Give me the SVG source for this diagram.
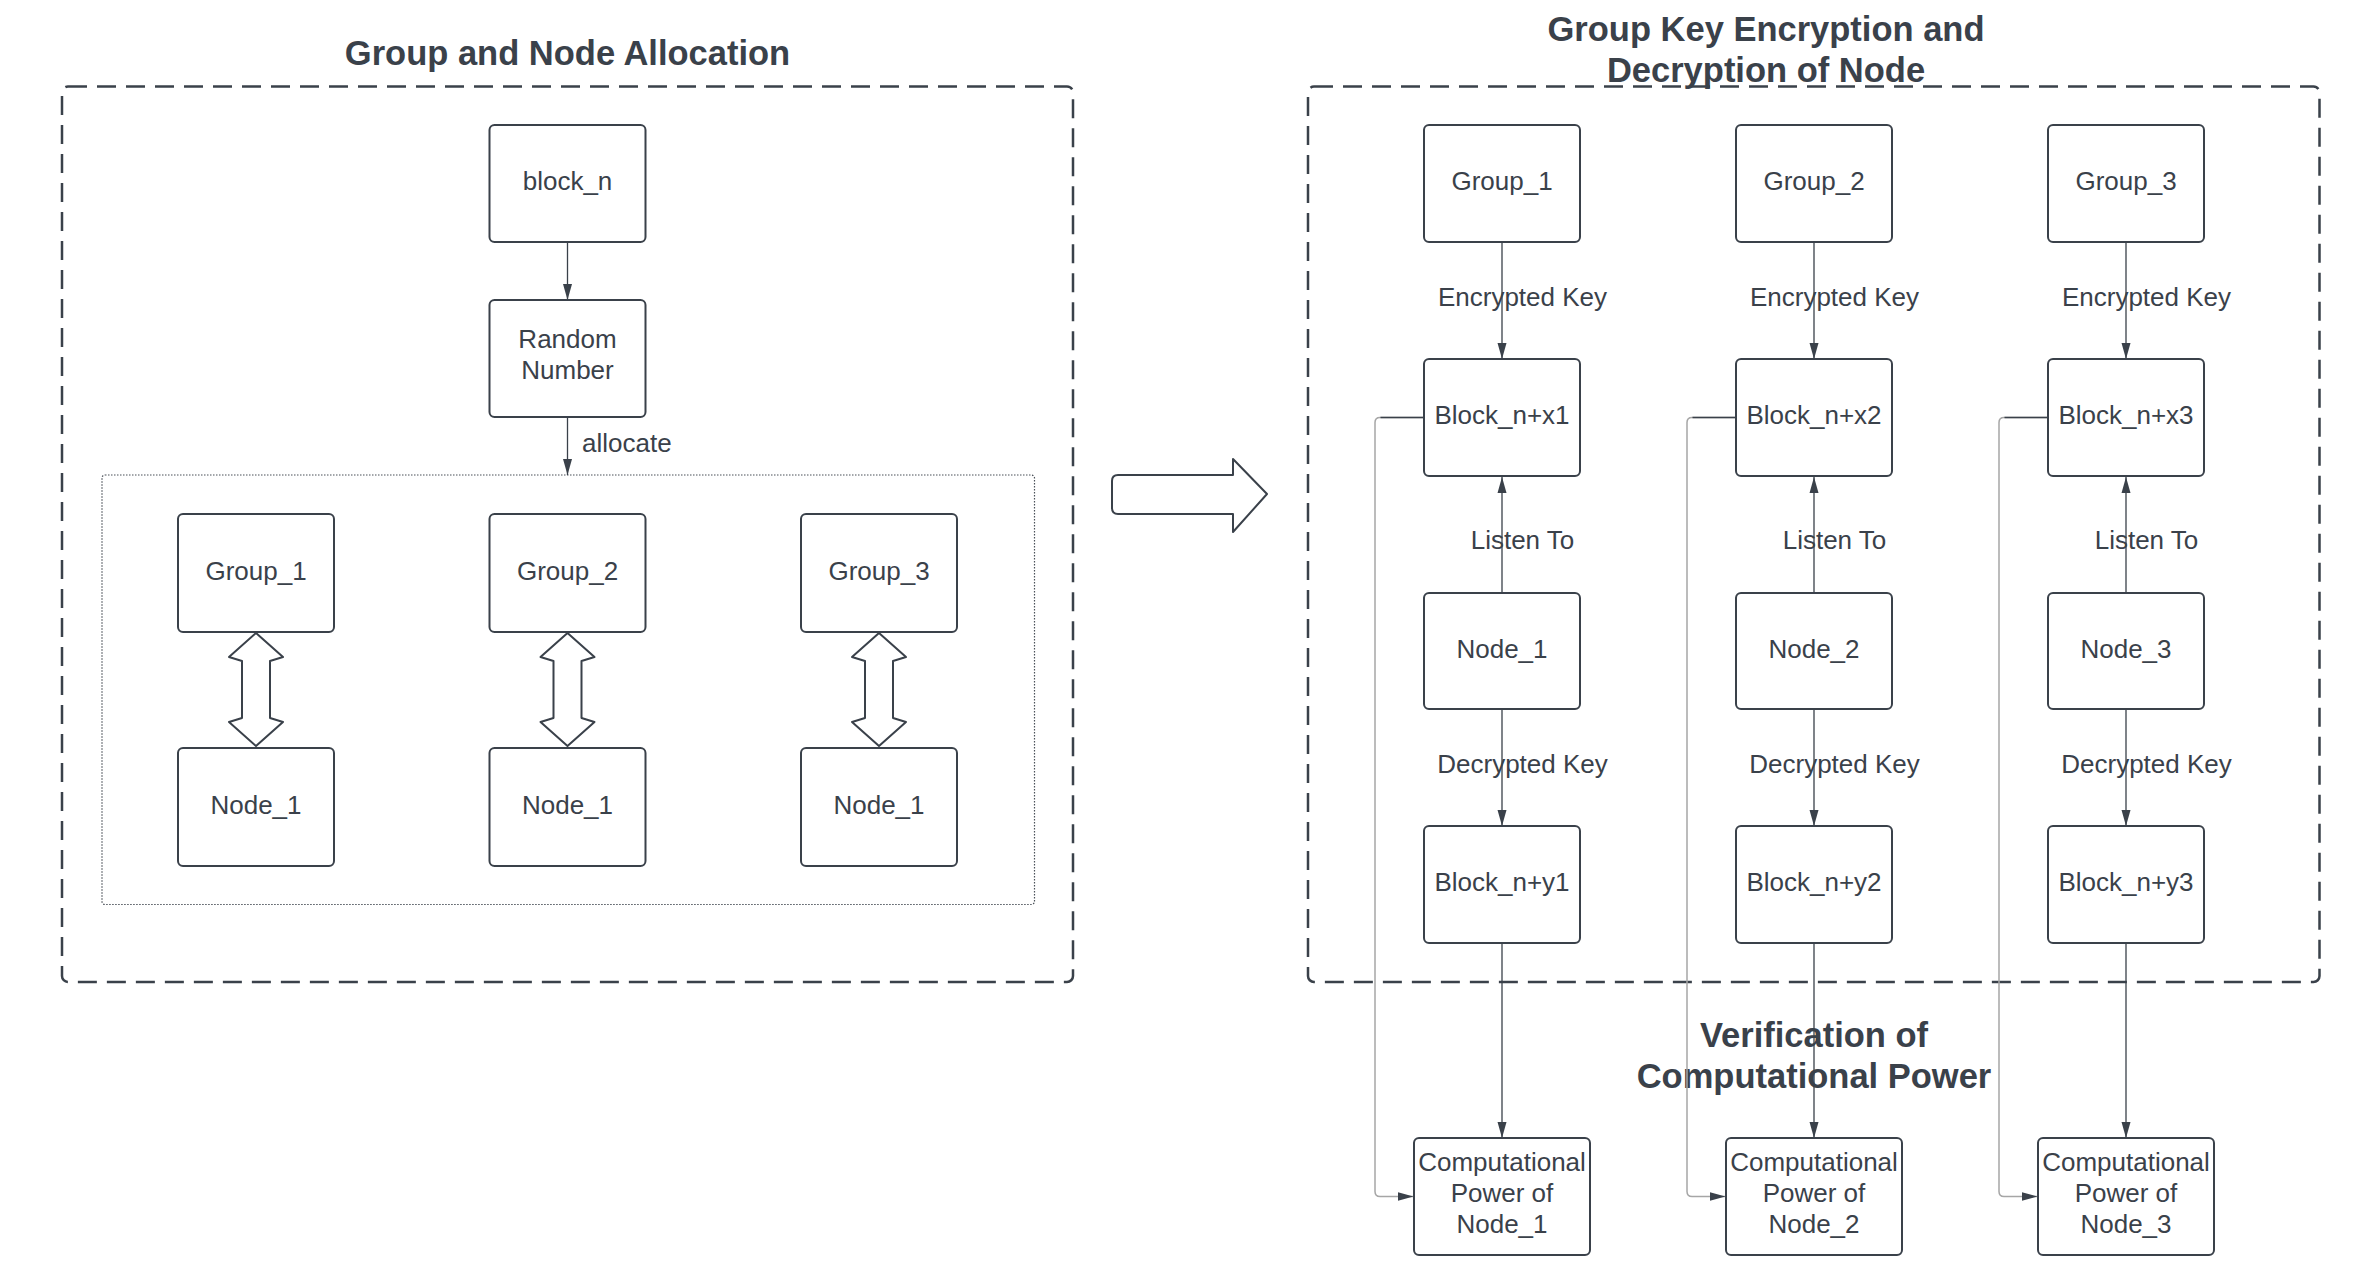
<svg xmlns="http://www.w3.org/2000/svg" width="2374" height="1272" viewBox="0 0 2374 1272">
<defs>
<style>
.bg{fill:#ffffff}
.box{fill:#ffffff;stroke:#3a414a;stroke-width:2}
.t{font-family:"Liberation Sans",Arial,sans-serif;font-size:26px;fill:#3a414a;text-anchor:middle}
.lbl{font-family:"Liberation Sans",Arial,sans-serif;font-size:26px;fill:#3a414a}
.title{font-family:"Liberation Sans",Arial,sans-serif;font-size:34.5px;font-weight:bold;fill:#3a414a;text-anchor:middle}
.frame{fill:none;stroke:#3a414a;stroke-width:2.5;stroke-dasharray:19 10}
.dotted{fill:none;stroke:#4a5058;stroke-width:1.2;stroke-dasharray:1.5 1.5}
.conn{fill:none;stroke:#3a414a;stroke-width:1.3}
.elbow{fill:none;stroke:#a6a6a6;stroke-width:1.5}
.block{fill:#ffffff;stroke:#3a414a;stroke-width:2;stroke-linejoin:round}
</style>
<marker id="ah" markerUnits="userSpaceOnUse" markerWidth="18" markerHeight="11" refX="16" refY="5" orient="auto">
<path d="M0,0.5 L16,5 L0,9.5 Z" fill="#3a414a"/>
</marker>
</defs>
<rect class="bg" x="0" y="0" width="2374" height="1272"/>

<!-- containers and titles -->
<g id="left-container">
<rect class="frame" x="62" y="86.5" width="1011" height="895.5" rx="6"/>
<text class="title" x="567.5" y="65">Group and Node Allocation</text>
<rect class="dotted" x="102" y="475" width="932.5" height="429.5" rx="3"/>
</g>
<g id="right-container">
<rect class="frame" x="1308" y="86.5" width="1011.5" height="895.5" rx="6"/>
<text class="title" x="1766" y="41">Group Key Encryption and</text>
<text class="title" x="1766" y="82">Decryption of Node</text>
</g>
<g id="verification-title">
<text class="title" x="1814" y="1047">Verification of</text>
<text class="title" x="1814" y="1088">Computational Power</text>
</g>

<!-- connectors -->
<g id="connectors">
<line class="conn" x1="567.5" y1="243" x2="567.5" y2="300" marker-end="url(#ah)"/>
<line class="conn" x1="567.5" y1="418" x2="567.5" y2="475" marker-end="url(#ah)"/>
<text class="lbl" x="582" y="452">allocate</text>

<!-- column 1 -->
<line class="conn" x1="1502" y1="243" x2="1502" y2="359" marker-end="url(#ah)"/>
<line class="conn" x1="1502" y1="593" x2="1502" y2="477" marker-end="url(#ah)"/>
<line class="conn" x1="1502" y1="710" x2="1502" y2="826" marker-end="url(#ah)"/>
<line class="conn" x1="1502" y1="944" x2="1502" y2="1138" marker-end="url(#ah)"/>
<path class="elbow" d="M1424,417.5 L1380,417.5 Q1375,417.5 1375,422.5 L1375,1191.5 Q1375,1196.5 1380,1196.5 L1413.5,1196.5" marker-end="url(#ah)"/>
<line class="conn" x1="1424" y1="417.5" x2="1380.5" y2="417.5"/>
<!-- column 2 -->
<line class="conn" x1="1814" y1="243" x2="1814" y2="359" marker-end="url(#ah)"/>
<line class="conn" x1="1814" y1="593" x2="1814" y2="477" marker-end="url(#ah)"/>
<line class="conn" x1="1814" y1="710" x2="1814" y2="826" marker-end="url(#ah)"/>
<line class="conn" x1="1814" y1="944" x2="1814" y2="1138" marker-end="url(#ah)"/>
<path class="elbow" d="M1736,417.5 L1692,417.5 Q1687,417.5 1687,422.5 L1687,1191.5 Q1687,1196.5 1692,1196.5 L1725.5,1196.5" marker-end="url(#ah)"/>
<line class="conn" x1="1736" y1="417.5" x2="1692.5" y2="417.5"/>
<!-- column 3 -->
<line class="conn" x1="2126" y1="243" x2="2126" y2="359" marker-end="url(#ah)"/>
<line class="conn" x1="2126" y1="593" x2="2126" y2="477" marker-end="url(#ah)"/>
<line class="conn" x1="2126" y1="710" x2="2126" y2="826" marker-end="url(#ah)"/>
<line class="conn" x1="2126" y1="944" x2="2126" y2="1138" marker-end="url(#ah)"/>
<path class="elbow" d="M2048,417.5 L2004,417.5 Q1999,417.5 1999,422.5 L1999,1191.5 Q1999,1196.5 2004,1196.5 L2037.5,1196.5" marker-end="url(#ah)"/>
<line class="conn" x1="2048" y1="417.5" x2="2004.5" y2="417.5"/>

<!-- connector labels -->
<text class="t" x="1522.5" y="306">Encrypted Key</text>
<text class="t" x="1522.5" y="549">Listen To</text>
<text class="t" x="1522.5" y="773">Decrypted Key</text>
<text class="t" x="1834.5" y="306">Encrypted Key</text>
<text class="t" x="1834.5" y="549">Listen To</text>
<text class="t" x="1834.5" y="773">Decrypted Key</text>
<text class="t" x="2146.5" y="306">Encrypted Key</text>
<text class="t" x="2146.5" y="549">Listen To</text>
<text class="t" x="2146.5" y="773">Decrypted Key</text>

<!-- double block arrows -->
<path class="block" d="M256,633 L283,657 L270,661 L270,718 L283,722 L256,746 L229,722 L242,718 L242,661 L229,657 Z"/>
<path class="block" d="M567.5,633 L594.5,657 L581.5,661 L581.5,718 L594.5,722 L567.5,746 L540.5,722 L553.5,718 L553.5,661 L540.5,657 Z"/>
<path class="block" d="M879,633 L906,657 L893,661 L893,718 L906,722 L879,746 L852,722 L865,718 L865,661 L852,657 Z"/>
<!-- big transition arrow -->
<path class="block" d="M1118,475 L1233,475 L1233,459 L1267,494 L1233,532 L1233,514 L1118,514 Q1112,514 1112,508 L1112,481 Q1112,475 1118,475 Z" stroke-width="2.5"/>
</g>

<!-- left nodes -->
<g id="block_n"><rect class="box" x="489.5" y="125" width="156" height="117" rx="5"/><text class="t" x="567.5" y="190">block_n</text></g>
<g id="random_number"><rect class="box" x="489.5" y="300" width="156" height="117" rx="5"/><text class="t" x="567.5" y="348">Random</text><text class="t" x="567.5" y="378.5">Number</text></g>
<g id="l_group_1"><rect class="box" x="178" y="514" width="156" height="118" rx="5"/><text class="t" x="256" y="580">Group_1</text></g>
<g id="l_group_2"><rect class="box" x="489.5" y="514" width="156" height="118" rx="5"/><text class="t" x="567.5" y="580">Group_2</text></g>
<g id="l_group_3"><rect class="box" x="801" y="514" width="156" height="118" rx="5"/><text class="t" x="879" y="580">Group_3</text></g>
<g id="l_node_1a"><rect class="box" x="178" y="748" width="156" height="118" rx="5"/><text class="t" x="256" y="814">Node_1</text></g>
<g id="l_node_1b"><rect class="box" x="489.5" y="748" width="156" height="118" rx="5"/><text class="t" x="567.5" y="814">Node_1</text></g>
<g id="l_node_1c"><rect class="box" x="801" y="748" width="156" height="118" rx="5"/><text class="t" x="879" y="814">Node_1</text></g>

<!-- right nodes column 1 -->
<g id="r_group_1"><rect class="box" x="1424" y="125" width="156" height="117" rx="5"/><text class="t" x="1502" y="190">Group_1</text></g>
<g id="block_nx1"><rect class="box" x="1424" y="359" width="156" height="117" rx="5"/><text class="t" x="1502" y="424">Block_n+x1</text></g>
<g id="r_node_1"><rect class="box" x="1424" y="593" width="156" height="116" rx="5"/><text class="t" x="1502" y="657.5">Node_1</text></g>
<g id="block_ny1"><rect class="box" x="1424" y="826" width="156" height="117" rx="5"/><text class="t" x="1502" y="891">Block_n+y1</text></g>
<g id="comp_1"><rect class="box" x="1414" y="1138" width="176" height="117" rx="5"/><text class="t" x="1502" y="1170.5">Computational</text><text class="t" x="1502" y="1201.5">Power of</text><text class="t" x="1502" y="1232.5">Node_1</text></g>

<!-- right nodes column 2 -->
<g id="r_group_2"><rect class="box" x="1736" y="125" width="156" height="117" rx="5"/><text class="t" x="1814" y="190">Group_2</text></g>
<g id="block_nx2"><rect class="box" x="1736" y="359" width="156" height="117" rx="5"/><text class="t" x="1814" y="424">Block_n+x2</text></g>
<g id="r_node_2"><rect class="box" x="1736" y="593" width="156" height="116" rx="5"/><text class="t" x="1814" y="657.5">Node_2</text></g>
<g id="block_ny2"><rect class="box" x="1736" y="826" width="156" height="117" rx="5"/><text class="t" x="1814" y="891">Block_n+y2</text></g>
<g id="comp_2"><rect class="box" x="1726" y="1138" width="176" height="117" rx="5"/><text class="t" x="1814" y="1170.5">Computational</text><text class="t" x="1814" y="1201.5">Power of</text><text class="t" x="1814" y="1232.5">Node_2</text></g>

<!-- right nodes column 3 -->
<g id="r_group_3"><rect class="box" x="2048" y="125" width="156" height="117" rx="5"/><text class="t" x="2126" y="190">Group_3</text></g>
<g id="block_nx3"><rect class="box" x="2048" y="359" width="156" height="117" rx="5"/><text class="t" x="2126" y="424">Block_n+x3</text></g>
<g id="r_node_3"><rect class="box" x="2048" y="593" width="156" height="116" rx="5"/><text class="t" x="2126" y="657.5">Node_3</text></g>
<g id="block_ny3"><rect class="box" x="2048" y="826" width="156" height="117" rx="5"/><text class="t" x="2126" y="891">Block_n+y3</text></g>
<g id="comp_3"><rect class="box" x="2038" y="1138" width="176" height="117" rx="5"/><text class="t" x="2126" y="1170.5">Computational</text><text class="t" x="2126" y="1201.5">Power of</text><text class="t" x="2126" y="1232.5">Node_3</text></g>
</svg>
